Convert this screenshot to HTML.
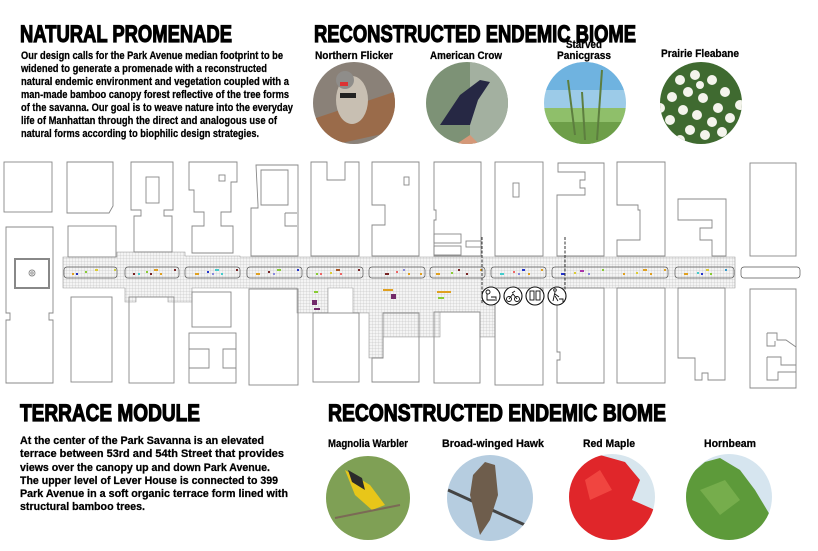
<!DOCTYPE html>
<html><head><meta charset="utf-8"><style>
html,body{margin:0;padding:0;background:#fff;}
svg{display:block;}
.t{font-family:"Liberation Sans",sans-serif;font-weight:bold;fill:#000;}
.hd{stroke:#000;stroke-width:1.2;}
.bd{stroke:#000;stroke-width:0.25;}
.b{fill:none;stroke:#888;stroke-width:0.9;}
</style></head><body>
<svg width="818" height="551" viewBox="0 0 818 551" xmlns="http://www.w3.org/2000/svg">
<defs>
<pattern id="h" width="3" height="3" patternUnits="userSpaceOnUse">
<rect width="3" height="3" fill="#f4f4f4"/>
<path d="M0 0H3M0 0V3" stroke="#b8b8b8" stroke-width="0.5"/>
</pattern>
<clipPath id="c1"><circle cx="354" cy="103" r="41"/></clipPath>
<clipPath id="c2"><circle cx="467" cy="103" r="41"/></clipPath>
<clipPath id="c3"><circle cx="585" cy="103" r="41"/></clipPath>
<clipPath id="c4"><circle cx="701" cy="103" r="41"/></clipPath>
<clipPath id="c5"><circle cx="368" cy="498" r="42"/></clipPath>
<clipPath id="c6"><circle cx="490" cy="498" r="43"/></clipPath>
<clipPath id="c7"><circle cx="612" cy="497" r="43"/></clipPath>
<clipPath id="c8"><circle cx="729" cy="497" r="43"/></clipPath>
</defs>

<!-- headings -->
<g class="t hd" font-size="24">
<text x="20" y="42" textLength="212" lengthAdjust="spacingAndGlyphs">NATURAL PROMENADE</text>
<text x="314" y="42" textLength="322" lengthAdjust="spacingAndGlyphs">RECONSTRUCTED ENDEMIC BIOME</text>
<text x="20" y="421" textLength="180" lengthAdjust="spacingAndGlyphs">TERRACE MODULE</text>
<text x="328" y="421" textLength="338" lengthAdjust="spacingAndGlyphs">RECONSTRUCTED ENDEMIC BIOME</text>
</g>

<g class="t bd" font-size="11">
<text x="21" y="59" textLength="262" lengthAdjust="spacingAndGlyphs">Our design calls for the Park Avenue median footprint to be</text>
<text x="21" y="72" textLength="246" lengthAdjust="spacingAndGlyphs">widened to generate a promenade with a reconstructed</text>
<text x="21" y="85" textLength="268" lengthAdjust="spacingAndGlyphs">natural endemic environment and vegetation coupled with a</text>
<text x="21" y="98" textLength="268" lengthAdjust="spacingAndGlyphs">man-made bamboo canopy forest reflective of the tree forms</text>
<text x="21" y="111" textLength="272" lengthAdjust="spacingAndGlyphs">of the savanna. Our goal is to weave nature into the everyday</text>
<text x="21" y="124" textLength="256" lengthAdjust="spacingAndGlyphs">life of Manhattan through the direct and analogous use of</text>
<text x="21" y="137" textLength="238" lengthAdjust="spacingAndGlyphs">natural forms according to biophilic design strategies.</text>

<text x="20" y="444" textLength="244" lengthAdjust="spacingAndGlyphs">At the center of the Park Savanna is an elevated</text>
<text x="20" y="457" textLength="264" lengthAdjust="spacingAndGlyphs">terrace between 53rd and 54th Street that provides</text>
<text x="20" y="471" textLength="250" lengthAdjust="spacingAndGlyphs">views over the canopy up and down Park Avenue.</text>
<text x="20" y="484" textLength="258" lengthAdjust="spacingAndGlyphs">The upper level of Lever House is connected to 399</text>
<text x="20" y="497" textLength="268" lengthAdjust="spacingAndGlyphs">Park Avenue in a soft organic terrace form lined with</text>
<text x="20" y="510" textLength="125" lengthAdjust="spacingAndGlyphs">structural bamboo trees.</text>
</g>

<g class="t bd" font-size="11" text-anchor="middle">
<text x="354" y="59" textLength="78" lengthAdjust="spacingAndGlyphs">Northern Flicker</text>
<text x="466" y="59" textLength="72" lengthAdjust="spacingAndGlyphs">American Crow</text>
<text x="584" y="48" textLength="36" lengthAdjust="spacingAndGlyphs">Starved</text>
<text x="584" y="59" textLength="54" lengthAdjust="spacingAndGlyphs">Panicgrass</text>
<text x="700" y="57" textLength="78" lengthAdjust="spacingAndGlyphs">Prairie Fleabane</text>
<text x="368" y="447" textLength="80" lengthAdjust="spacingAndGlyphs">Magnolia Warbler</text>
<text x="493" y="447" textLength="102" lengthAdjust="spacingAndGlyphs">Broad-winged Hawk</text>
<text x="609" y="447" textLength="52" lengthAdjust="spacingAndGlyphs">Red Maple</text>
<text x="730" y="447" textLength="52" lengthAdjust="spacingAndGlyphs">Hornbeam</text>
</g>

<!-- circles -->
<g clip-path="url(#c1)"><rect x="310" y="60" width="90" height="90" fill="#8a8178"/><path d="M310 120 L400 90 L400 130 L310 150Z" fill="#9a6b4a"/><ellipse cx="352" cy="100" rx="16" ry="24" fill="#c8bfb2"/><circle cx="345" cy="80" r="9" fill="#8f8d8a"/><rect x="340" y="82" width="8" height="4" fill="#d33"/><rect x="340" y="93" width="16" height="5" fill="#222"/></g>
<g clip-path="url(#c2)"><rect x="420" y="60" width="90" height="90" fill="#7d9276"/><rect x="470" y="60" width="40" height="90" fill="#a3b0a0"/><path d="M440 125 L460 95 L480 80 L490 82 L478 100 L470 125Z" fill="#262844"/><path d="M455 145 L470 135 L480 145Z" fill="#d59878"/></g>
<g clip-path="url(#c3)"><rect x="540" y="60" width="90" height="90" fill="#9ccbe8"/><rect x="540" y="60" width="90" height="30" fill="#6fb3e0"/><rect x="540" y="108" width="90" height="40" fill="#8fbf6a"/><rect x="540" y="122" width="90" height="30" fill="#6d9e48"/><path d="M568 80 L575 135 M602 70 L597 140 M582 92 L585 140" stroke="#5d7e3f" stroke-width="2"/></g>
<g clip-path="url(#c4)"><rect x="655" y="60" width="90" height="90" fill="#3f6a30"/>
<g fill="#f4f4ec"><circle cx="680" cy="80" r="5"/><circle cx="695" cy="75" r="5"/><circle cx="712" cy="80" r="5"/><circle cx="725" cy="92" r="5"/><circle cx="672" cy="97" r="5"/><circle cx="688" cy="92" r="5"/><circle cx="703" cy="98" r="5"/><circle cx="718" cy="108" r="5"/><circle cx="683" cy="110" r="5"/><circle cx="697" cy="115" r="5"/><circle cx="670" cy="120" r="5"/><circle cx="712" cy="122" r="5"/><circle cx="730" cy="118" r="5"/><circle cx="690" cy="130" r="5"/><circle cx="705" cy="135" r="5"/><circle cx="680" cy="140" r="5"/><circle cx="722" cy="132" r="5"/><circle cx="660" cy="108" r="5"/><circle cx="740" cy="105" r="5"/><circle cx="700" cy="85" r="4"/></g></g>
<g clip-path="url(#c5)"><rect x="320" y="450" width="100" height="100" fill="#7fa055"/><path d="M345 470 L370 485 L385 505 L372 510 L355 495Z" fill="#e8c619"/><path d="M348 470 L362 478 L365 490 L352 482Z" fill="#2b2b2b"/><path d="M335 518 L400 505" stroke="#7b6a55" stroke-width="2"/></g>
<g clip-path="url(#c6)"><rect x="440" y="450" width="100" height="100" fill="#b6cde0"/><path d="M448 490 L525 525" stroke="#444" stroke-width="3"/><path d="M473 475 L485 462 L495 465 L498 495 L490 520 L480 535 L475 515 L470 495Z" fill="#6e5d4c"/></g>
<g clip-path="url(#c7)"><rect x="565" y="450" width="100" height="100" fill="#d8e6ee"/><path d="M568 470 L600 455 L625 462 L640 480 L632 500 L655 510 L652 545 L568 545Z" fill="#e0262a"/><path d="M585 480 L600 470 L612 490 L590 500Z" fill="#f04540"/></g>
<g clip-path="url(#c8)"><rect x="684" y="450" width="100" height="100" fill="#d6e5ef"/><path d="M686 478 L705 462 L720 458 L740 470 L755 490 L770 515 L760 545 L686 545Z" fill="#5d9a3a"/><path d="M700 490 L725 480 L740 500 L720 515Z" fill="#76ad4c"/></g>

<!-- hatched promenade -->
<g fill="url(#h)" stroke="#999" stroke-width="0.6">
<path d="M63 257 H117 V252 H185 V256 H240 V257 H735 V288 H495 V337 H480 V312 H440 V337 H383 V358 H369 V313 H353 V288 H328 V313 H297 V288 H192 V302 H168 V297 H136 V302 H125 V288 H63Z"/>
</g>
<!-- planting strips -->
<g fill="none" stroke="#555" stroke-width="0.7">
<rect x="64" y="267" width="53" height="11" rx="3"/>
<rect x="125" y="267" width="54" height="11" rx="3"/>
<rect x="185" y="267" width="55" height="11" rx="3"/>
<rect x="247" y="267" width="55" height="11" rx="3"/>
<rect x="307" y="267" width="56" height="11" rx="3"/>
<rect x="369" y="267" width="56" height="11" rx="3"/>
<rect x="430" y="267" width="55" height="11" rx="3"/>
<rect x="491" y="267" width="55" height="11" rx="3"/>
<rect x="552" y="267" width="116" height="11" rx="3"/>
<rect x="675" y="267" width="59" height="11" rx="3"/>
<rect x="741" y="267" width="59" height="11" rx="3"/>
</g>
<!-- colored dots -->
<g>
<rect x="72" y="273" width="2" height="2" fill="#e0a020"/><rect x="76" y="273" width="2" height="2" fill="#2030c0"/><rect x="85" y="271" width="2" height="2" fill="#8c3"/><rect x="95" y="269" width="3" height="2" fill="#dc3"/><rect x="114" y="269" width="2" height="2" fill="#cc4"/>
<rect x="133" y="273" width="2" height="2" fill="#722"/><rect x="138" y="273" width="2" height="2" fill="#4cc"/><rect x="146" y="271" width="2" height="2" fill="#8c3"/><rect x="154" y="269" width="4" height="2" fill="#e0a020"/><rect x="150" y="273" width="2" height="2" fill="#722"/><rect x="160" y="273" width="2" height="2" fill="#e0a020"/><rect x="174" y="269" width="2" height="2" fill="#722"/>
<rect x="195" y="273" width="4" height="2" fill="#e0a020"/><rect x="207" y="271" width="2" height="2" fill="#23c"/><rect x="212" y="273" width="2" height="2" fill="#88d"/><rect x="215" y="269" width="4" height="2" fill="#4cc"/><rect x="221" y="273" width="2" height="2" fill="#4cc"/><rect x="236" y="269" width="2" height="2" fill="#722"/>
<rect x="256" y="273" width="4" height="2" fill="#e0a020"/><rect x="268" y="271" width="2" height="2" fill="#722"/><rect x="273" y="273" width="2" height="2" fill="#88d"/><rect x="277" y="269" width="4" height="2" fill="#8c3"/><rect x="297" y="269" width="2" height="2" fill="#23c"/>
<rect x="316" y="273" width="2" height="2" fill="#8c3"/><rect x="320" y="273" width="2" height="2" fill="#e66"/><rect x="330" y="272" width="2" height="2" fill="#dc3"/><rect x="336" y="269" width="4" height="2" fill="#a52"/><rect x="340" y="273" width="2" height="2" fill="#e66"/><rect x="358" y="269" width="2" height="2" fill="#722"/>
<rect x="385" y="273" width="4" height="2" fill="#722"/><rect x="396" y="271" width="2" height="2" fill="#e66"/><rect x="403" y="269" width="2" height="2" fill="#88d"/><rect x="408" y="273" width="2" height="2" fill="#e0a020"/><rect x="420" y="273" width="2" height="2" fill="#e0a020"/><rect x="436" y="273" width="4" height="2" fill="#e0a020"/><rect x="451" y="272" width="2" height="2" fill="#8c3"/><rect x="458" y="269" width="2" height="2" fill="#722"/><rect x="466" y="273" width="2" height="2" fill="#722"/><rect x="480" y="269" width="2" height="2" fill="#e0a020"/>
<rect x="500" y="273" width="4" height="2" fill="#4cc"/><rect x="513" y="271" width="2" height="2" fill="#e66"/><rect x="518" y="273" width="2" height="2" fill="#88d"/><rect x="522" y="269" width="3" height="2" fill="#23c"/><rect x="528" y="273" width="2" height="2" fill="#e0a020"/><rect x="541" y="269" width="2" height="2" fill="#e0a020"/>
<rect x="561" y="273" width="4" height="2" fill="#23c"/><rect x="574" y="272" width="2" height="2" fill="#dc3"/><rect x="580" y="270" width="4" height="2" fill="#a3a"/><rect x="588" y="273" width="2" height="2" fill="#88d"/><rect x="602" y="269" width="2" height="2" fill="#8c3"/><rect x="623" y="273" width="2" height="2" fill="#e0a020"/><rect x="636" y="272" width="2" height="2" fill="#dc3"/><rect x="643" y="269" width="4" height="2" fill="#e0a020"/><rect x="650" y="273" width="2" height="2" fill="#e0a020"/><rect x="664" y="269" width="2" height="2" fill="#e0a020"/>
<rect x="684" y="273" width="4" height="2" fill="#e0a020"/><rect x="697" y="272" width="2" height="2" fill="#4cc"/><rect x="701" y="273" width="2" height="2" fill="#23c"/><rect x="706" y="269" width="3" height="2" fill="#dc3"/><rect x="710" y="273" width="2" height="2" fill="#8c3"/><rect x="725" y="269" width="2" height="2" fill="#39c"/>
<rect x="314" y="291" width="4" height="2" fill="#8c3"/><rect x="312" y="300" width="5" height="5" fill="#722a6a"/><rect x="314" y="308" width="6" height="2" fill="#722a6a"/>
<rect x="383" y="289" width="10" height="2" fill="#e0a020"/><rect x="391" y="294" width="5" height="5" fill="#722a6a"/>
<rect x="437" y="291" width="14" height="2" fill="#e0a020"/><rect x="438" y="297" width="6" height="2" fill="#8c3"/>
</g>

<!-- buildings -->
<g class="b">
<rect x="4" y="162" width="48" height="50"/>
<path d="M67 162 H113 V206 L109 213 H67Z"/>
<path d="M131 162 H173 V210 H164 V216 H172 V252 H134 V216 H141 V210 H131Z"/>
<rect x="146" y="177" width="13" height="26"/>
<path d="M189 162 H237 V182 H231 V212 H221 V226 H233 V253 H192 V226 H204 V212 H194 V190 H189Z"/>
<rect x="219" y="175" width="6" height="6"/>
<path d="M256 165 H298 V256 H251 V208 H258 V205 Z"/>
<path d="M261 170 H288 V205 H261Z"/>
<path d="M285 213 H297 M285 213 V226 H297"/>
<path d="M311 162 H327 V180 H345 V162 H359 V256 H311Z"/>
<path d="M372 162 H419 V256 H372 V225 H385 V205 H372Z"/>
<rect x="404" y="177" width="5" height="8"/>
<path d="M434 162 H481 V256 H434 V220 H436 V210 H434Z"/>
<rect x="434" y="234" width="27" height="9"/><rect x="434" y="246" width="27" height="9"/><rect x="466" y="241" width="15" height="6"/>
<rect x="495" y="162" width="48" height="94"/>
<rect x="513" y="183" width="6" height="14"/>
<path d="M558 163 H604 V256 H557 V195 H585 V188 H580 V180 H585 V172 H558Z"/>
<path d="M617 162 H665 V256 H617 V240 H640 V210 H638 V205 H617Z"/>
<path d="M678 199 H726 V256 H712 V240 H700 V228 H712 V220 H678Z"/>
<rect x="750" y="163" width="46" height="93"/>

<path d="M6 227 H53 V313 H49 V320 H53 V383 H6 V320 H10 V313 H6Z"/>
<rect x="15" y="259" width="34" height="29" stroke-width="2"/>
<circle cx="32" cy="273" r="3"/><circle cx="32" cy="273" r="1.2"/>
<rect x="68" y="226" width="48" height="31"/>
<rect x="71" y="297" width="41" height="85"/>
<rect x="129" y="297" width="45" height="86"/>
<rect x="192" y="292" width="39" height="35"/>
<rect x="189" y="333" width="47" height="50"/>
<path d="M189 349 H209 V368 H189 M236 349 H223 V368 H236"/>
<rect x="249" y="289" width="49" height="96"/>
<rect x="313" y="313" width="46" height="69"/>
<path d="M383 313 H419 V382 H372 V358 H383Z"/>
<rect x="434" y="312" width="46" height="71"/>
<rect x="495" y="288" width="48" height="97"/>
<path d="M557 288 H604 V383 H557 V360 H560 V352 H557Z"/>
<rect x="617" y="288" width="48" height="95"/>
<path d="M678 288 H725 V380 H708 V373 H702 V380 H695 V358 H678Z"/>
<path d="M750 289 H796 V388 H750 Z"/>
<path d="M767 333 H777 V340 H786 L796 347 M767 333 V346 H775 V341 M767 357 H781 V365 H796 M767 357 V380 H778 V372 H796"/>
</g>

<!-- dashed lines -->
<g stroke="#333" stroke-width="1" stroke-dasharray="3,1.5">
<line x1="482" y1="237" x2="482" y2="303"/>
<line x1="565" y1="237" x2="565" y2="296"/>
</g>
<!-- icons -->
<g fill="#fff" stroke="#111" stroke-width="1.1">
<circle cx="491" cy="296" r="9"/><circle cx="513" cy="296" r="9"/><circle cx="535" cy="296" r="9"/><circle cx="557" cy="296" r="9"/>
</g>
<g fill="none" stroke="#111" stroke-width="0.9">
<circle cx="488" cy="292" r="2"/><path d="M487 294 V300 H495 M491 297 H496 V301"/>
<circle cx="509" cy="299" r="2.5"/><circle cx="517" cy="299" r="2.5"/><path d="M509 299 L513 294 L517 299 M512 293 L515 291"/>
<rect x="530" y="291" width="4" height="9"/><rect x="536" y="291" width="4" height="9"/>
<circle cx="555" cy="290" r="1.3"/><path d="M555 292 L553 301 M555 294 L559 297 M555 296 L558 301 M559 299 H563 V302"/>
</g>
</svg>
</body></html>
